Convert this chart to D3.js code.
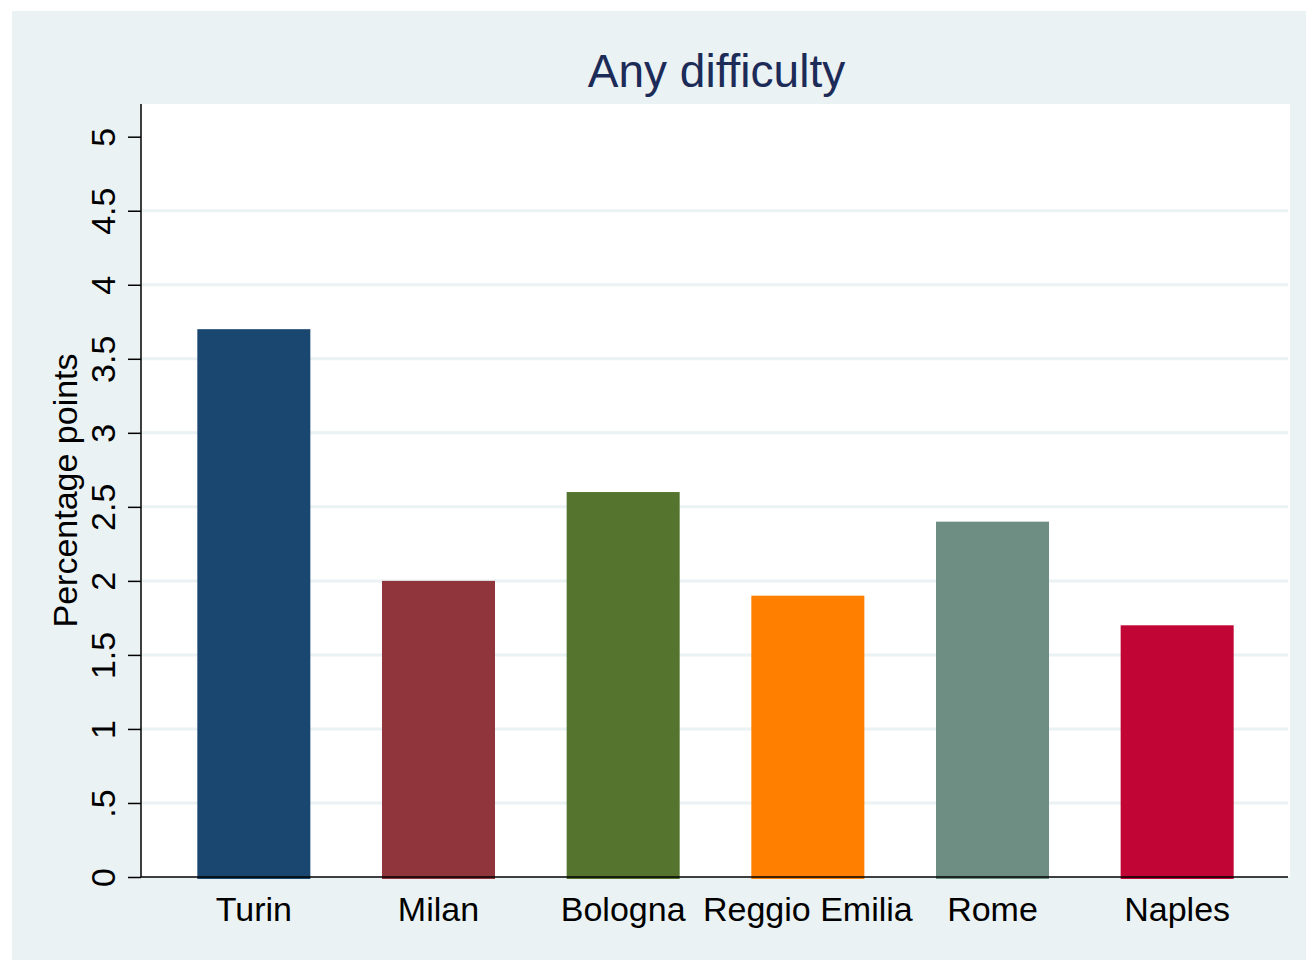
<!DOCTYPE html>
<html>
<head>
<meta charset="utf-8">
<script src="https://cdn.jsdelivr.net/npm/d3@7"></script>
<style>
  body { margin: 0; background: #ffffff; }
  text { font-family: "Liberation Sans", Arial, sans-serif; }
</style>
</head>
<body>
<script>
// chart data
const cities = ['Turin', 'Milan', 'Bologna', 'Reggio Emilia', 'Rome', 'Naples'];
const values = [3.7, 2.0, 2.6, 1.9, 2.4, 1.7];
const barColors = ['#1a476f', '#90353b', '#55752f', '#ff7f00', '#6e8e84', '#c10534'];
const yTicks = [0, 0.5, 1, 1.5, 2, 2.5, 3, 3.5, 4, 4.5, 5];
const yTickLabels = ['0', '.5', '1', '1.5', '2', '2.5', '3', '3.5', '4', '4.5', '5'];
const title = 'Any difficulty';
const yTitle = 'Percentage points';

const W = 1306, H = 960;
const plot = {left: 141, right: 1290, top: 104, bottom: 877};

const svg = d3.select('body').append('svg')
    .attr('width', W)
    .attr('height', H)
    .attr('xmlns', 'http://www.w3.org/2000/svg');

// outer graph region
svg.append('rect')
    .attr('x', 12).attr('y', 11)
    .attr('width', W - 12).attr('height', H - 11)
    .style('fill', '#eaf2f3');

// plot region
svg.append('rect')
    .attr('x', plot.left).attr('y', plot.top)
    .attr('width', plot.right - plot.left).attr('height', plot.bottom - plot.top)
    .style('fill', '#ffffff');

const y = d3.scaleLinear().domain([0, 5]).range([plot.bottom, 136.7]);
const x = d3.scaleBand().domain(cities)
    .range([plot.left, plot.right])
    .paddingInner(0.388)
    .paddingOuter(0.305);

// gridlines
svg.selectAll('line.grid')
    .data(yTicks.filter(d => d > 0 && d < 5))
    .enter().append('line')
    .attr('class', 'grid')
    .attr('x1', plot.left).attr('x2', plot.right - 2)
    .attr('y1', d => y(d)).attr('y2', d => y(d))
    .style('stroke', '#eaf2f3')
    .style('stroke-width', 3);

// bars
svg.selectAll('rect.bar')
    .data(values)
    .enter().append('rect')
    .attr('class', 'bar')
    .attr('x', (d, i) => x(cities[i]))
    .attr('y', d => y(d))
    .attr('width', x.bandwidth())
    .attr('height', d => y(0) - y(d) + 2)
    .style('fill', (d, i) => barColors[i]);

// y axis
const yAxis = d3.axisLeft(y)
    .tickValues(yTicks)
    .tickFormat((d, i) => yTickLabels[i])
    .tickSize(13)
    .tickPadding(13);
const gy = svg.append('g')
    .attr('transform', `translate(${plot.left},0)`)
    .call(yAxis);
gy.select('.domain')
    .attr('d', `M0,${plot.top}V${plot.bottom}`)
    .style('stroke', '#000').style('stroke-width', 1.5);
gy.selectAll('.tick line').style('stroke', '#000').style('stroke-width', 1.5);
gy.selectAll('.tick text')
    .attr('x', null).attr('dy', null)
    .attr('transform', 'translate(-26,0) rotate(-90)')
    .attr('text-anchor', 'middle')
    .style('font-size', '34px')
    .style('fill', '#000');

// x axis
const xAxis = d3.axisBottom(x).tickSize(0).tickPadding(0);
const gx = svg.append('g')
    .attr('transform', `translate(0,${plot.bottom})`)
    .call(xAxis);
gx.select('.domain')
    .attr('d', `M${plot.left},0H${plot.right - 2}`)
    .style('stroke', '#000').style('stroke-width', 1.5);
gx.selectAll('.tick text')
    .attr('y', 44).attr('dy', null)
    .style('font-size', '34px')
    .style('fill', '#000');

// titles
svg.append('text')
    .attr('x', (plot.left + plot.right) / 2 + 1)
    .attr('y', 87)
    .attr('text-anchor', 'middle')
    .style('font-size', '46px')
    .style('fill', '#1c2b57')
    .text(title);

svg.append('text')
    .attr('transform', `translate(77,${(plot.top + plot.bottom) / 2}) rotate(-90)`)
    .attr('text-anchor', 'middle')
    .style('font-size', '34px')
    .style('fill', '#000')
    .text(yTitle);
</script>
</body>
</html>
